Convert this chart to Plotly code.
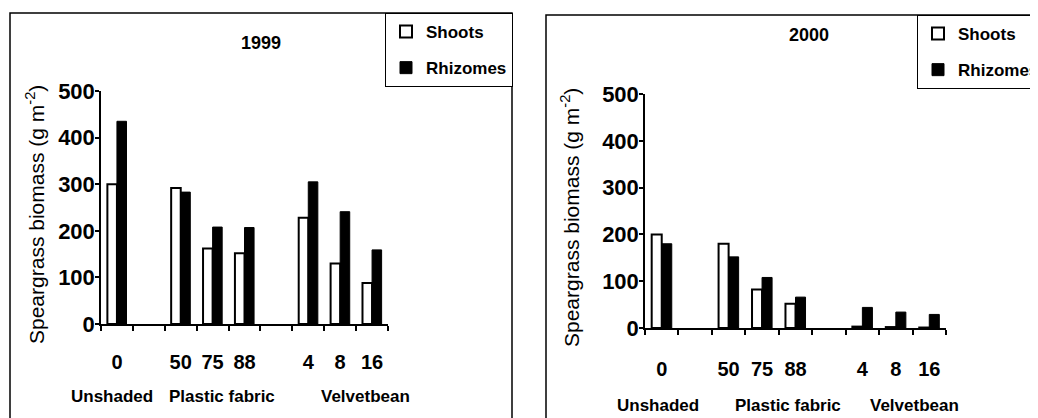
import plotly.graph_objects as go

# ---- data ----
slot_labels = ["0", "", "50", "75", "88", "", "4", "8", "16"]
group_labels = ["Unshaded", "Plastic fabric", "Velvetbean"]
years = ["1999", "2000"]
shoots_1999 = [300, None, 292, 162, 152, None, 228, 130, 88]
rhizomes_1999 = [435, None, 283, 208, 207, None, 305, 241, 159]
shoots_2000 = [200, None, 180, 82, 52, None, 3, 2, 1]
rhizomes_2000 = [180, None, 152, 108, 66, None, 44, 34, 29]
y_ticks = [0, 100, 200, 300, 400, 500]

W, H = 1038, 418
OFF = 8  # page body margin offset
def px(x):
    return (x - OFF) / W
def py(y):
    return 1 - (y - OFF) / H

SANS = "Liberation Sans, Arial, sans-serif"

slots = list(range(len(slot_labels)))
lab_vals = [i for i, l in enumerate(slot_labels) if l]
lab_text = [l for l in slot_labels if l]

fig = go.Figure()

panels = [
    dict(year=years[0], shoots=shoots_1999, rhiz=rhizomes_1999, xa="x", ya="y", leg="legend"),
    dict(year=years[1], shoots=shoots_2000, rhiz=rhizomes_2000, xa="x2", ya="y2", leg="legend2"),
]
for p in panels:
    fig.add_trace(go.Bar(x=slots, y=p["shoots"], name="Shoots", xaxis=p["xa"], yaxis=p["ya"],
                         legend=p["leg"], legendgroup=p["leg"] + "s",
                         marker=dict(color="white", line=dict(color="black", width=2))))
    fig.add_trace(go.Bar(x=slots, y=p["rhiz"], name="Rhizomes", xaxis=p["xa"], yaxis=p["ya"],
                         legend=p["leg"], legendgroup=p["leg"] + "r",
                         marker=dict(color="black", line=dict(color="black", width=1))))

def xaxis(domain, anchor, standoff):
    return dict(domain=domain, anchor=anchor, range=[-0.5, len(slot_labels) - 0.5],
                tickmode="array", tickvals=lab_vals, ticktext=lab_text, ticks="",
                ticklabelstandoff=standoff,
                tickfont=dict(family=SANS, size=20, color="black", weight="bold"),
                minor=dict(tickmode="array", tickvals=[i - 0.5 for i in range(len(slot_labels) + 1)],
                           ticks="outside", ticklen=5, tickwidth=1.5, tickcolor="black"),
                showline=True, linecolor="black", linewidth=1.5, showgrid=False, zeroline=False,
                fixedrange=True)

def yaxis(domain, anchor):
    return dict(domain=domain, anchor=anchor, range=[0, 500], tickmode="array", tickvals=y_ticks,
                ticks="outside", ticklen=4, tickwidth=1.5, tickcolor="black", ticklabelstandoff=-4,
                tickfont=dict(family=SANS, size=22, color="black", weight="bold"),
                showline=True, linecolor="black", linewidth=1.5, showgrid=False, zeroline=False,
                fixedrange=True)

legend_common = dict(bordercolor="black", borderwidth=1, bgcolor="white",
                     font=dict(family=SANS, size=17, color="black", weight="bold"),
                     xanchor="left", yanchor="top", tracegroupgap=11, itemwidth=30)

fig.update_layout(
    width=W, height=H, margin=dict(l=0, r=0, t=0, b=0, autoexpand=False),
    paper_bgcolor="white", plot_bgcolor="white",
    barmode="group", bargap=0.4, bargroupgap=0,
    xaxis=xaxis([px(101), px(388)], "y", 19),
    yaxis=yaxis([py(324), py(91)], "x"),
    xaxis2=xaxis([px(645), px(946)], "y2", 22),
    yaxis2=yaxis([py(328), py(94)], "x2"),
    legend=dict(x=px(385), y=py(13), **legend_common),
    legend2=dict(x=px(917), y=py(15), **legend_common),
    showlegend=True,
)

# frames
fig.add_shape(type="rect", xref="paper", yref="paper", x0=px(10), y0=py(440), x1=px(512), y1=py(13),
              line=dict(color="black", width=1.5))
fig.add_shape(type="rect", xref="paper", yref="paper", x0=px(546), y0=py(440), x1=px(1060), y1=py(15),
              line=dict(color="black", width=1.5))

# titles
for yr, xc, yc in [(years[0], 261, 43), (years[1], 809, 35)]:
    fig.add_annotation(text=yr, xref="paper", yref="paper", x=px(xc), y=py(yc), showarrow=False,
                       xanchor="center", yanchor="middle",
                       font=dict(family=SANS, size=18, color="black", weight="bold"))

ytitle = "Speargrass biomass (g m<sup>-2</sup>)"
for xc, yc in [(35, 215), (570, 218)]:
    fig.add_annotation(text=ytitle, xref="paper", yref="paper", x=px(xc), y=py(yc), showarrow=False,
                       xanchor="center", yanchor="middle",
                       textangle=-90, font=dict(family=SANS, size=21, color="black"))

# group labels
for xr, centers, ypx in [("x", [-0.16, 3.3, 7.8], 396), ("x2", [-0.11, 3.78, 7.55], 405)]:
    for g, c in zip(group_labels, centers):
        fig.add_annotation(text=g, xref=xr, yref="paper", x=c, y=py(ypx), showarrow=False,
                           xanchor="center", yanchor="middle",
                           font=dict(family=SANS, size=17, color="black", weight="bold"))

fig.write_html("out.html")
